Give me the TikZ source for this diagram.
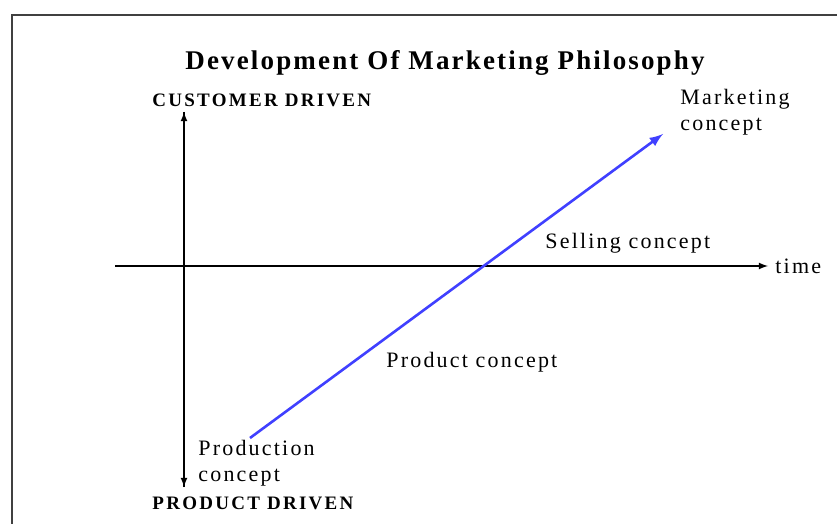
\documentclass[tikz,border=0pt]{standalone}
\usepackage{fontspec}
\setmainfont{Liberation Serif}
\usepackage{tikz}

\begin{document}
\begin{tikzpicture}[x=0.5pt,y=-0.5pt]
        \tikzset{lbl/.style={inner sep=0pt,font=\fontsize{11}{13}\selectfont\addfontfeature{LetterSpace=10}},
                 drv/.style={inner sep=0pt,font=\fontsize{9.5}{11}\selectfont\bfseries\addfontfeature{LetterSpace=12}},
                 axis/.style={semithick,-latex}}
        \useasboundingbox (0,0) rectangle (837,524);
        \draw[line width=1pt, black!75] (12,524) -- (12,15) -- (837,15);

        \node[inner sep=0pt, font=\fontsize{13.5}{16}\selectfont\bfseries\addfontfeature{LetterSpace=8}] (title) at (445,63) {Development Of Marketing Philosophy};

        \coordinate (top) at (184,112);
        \coordinate (bot) at (184,487);
        \coordinate (left) at (115,266);
        \coordinate (right) at (768,266);
        \draw[axis] (bot) -- (top);
        \draw[axis] (top) -- (bot);
        \draw[axis] (left) -- (right);

        \node[drv, anchor=west] (cust) at (152,100) {CUSTOMER DRIVEN};
        \node[drv, anchor=west] (prod) at (152,503) {PRODUCT DRIVEN};
        \node[lbl, anchor=west] (time) at (775,266) {time};

        \coordinate (start) at (250,438);
        \coordinate (end) at (663,134);
        \draw[blue!75, line width=1.3pt, -latex] (start) -- (end);

        \node[lbl, anchor=west, align=left] (mkt) at (680,112) {Marketing\\concept};
        \node[lbl, anchor=west] (sell) at (545,243) {Selling concept};
        \node[lbl, anchor=west] (prodc) at (386,362) {Product concept};
        \node[lbl, anchor=west, align=left] (prodn) at (198,463) {Production\\concept};
    \end{tikzpicture}
\end{document}
